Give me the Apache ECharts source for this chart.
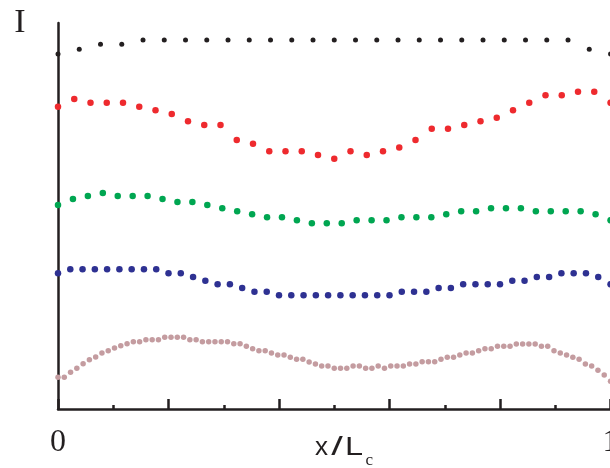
<!DOCTYPE html>
<html>
<head>
<meta charset="utf-8">
<script src="https://cdn.jsdelivr.net/npm/echarts@6/dist/echarts.min.js"></script>
<style>
html,body{margin:0;padding:0;background:#fff;}
#c{width:610px;height:468px;}
</style>
</head>
<body>
<div id="c"></div>
<script>
// Intensity profiles along x/L_c (arbitrary units, offset curves)
var blackVals = [355,359.7,364.7,364.7,369,369,369,369,369,369,369,369,369,369,369,369,369,369,369,369,369,369,369,369,369,359.7,355];
var redVals = [302.3,310,306.3,306.3,306.3,302.3,298.7,295,287.7,284,284,269,265.3,257.7,257.7,257.7,254,250.3,257.7,254,257.7,261.5,269,280.3,280.3,284,287.7,291.3,298.7,306.3,313.7,313.7,317.3,317.3,306.3];
var greenVals = [204,210,213,216,213,213,213,210,207,207,204,200.7,197.7,194.7,191.7,191.7,188.7,185.7,185.7,185.7,188.7,188.7,188.7,191.7,191.7,191.7,194.7,197.7,197.7,200.7,200.7,200.7,197.7,197.7,197.7,197.7,194.7,188.7];
var blueVals = [135.7,139.7,139.7,139.7,139.7,139.7,139.7,139.7,139.7,135.7,135.7,132,128.3,124.7,124.7,121,117.3,117.3,113.7,113.7,113.7,113.7,113.7,113.7,113.7,113.7,113.7,113.7,117.3,117.3,117.3,121,121,124.7,124.7,124.7,124.7,128.3,128.3,132,132,135.7,135.7,135.7,132,124.7];
var pinkVals = [31.7,31.7,36.7,40.7,45.3,49.3,52,56,58.3,61,63.3,65.3,67.3,67.3,69.3,69.3,69.3,71.7,71.7,71.7,71.7,69.3,69.3,67.3,67.3,67.3,67.3,67.3,65.3,
65.3,62.7,60.3,58.3,58.3,56,54,54,51.7,49.7,49.7,47,45,43,43,40.7,40.7,40.7,43,43,40.7,40.7,43,40.7,43,43,43,45,45,
47.3,47.3,47.3,49.7,51.7,51.7,54,56,56,58.3,60.3,60.3,62.7,62.7,62.7,65,65,65,65,62.7,62.7,58.3,56,54,51.7,49.7,45,43,38.7,34,27.7];
var xTickLabels = {0: '0', 1: '1'};

function toPoints(vals) {
  var n = vals.length;
  return vals.map(function (v, i) { return [i / (n - 1), v]; });
}

var chart = echarts.init(document.getElementById('c'), null, {renderer: 'canvas'});
var axisColor = '#231f20';
function sc(name, vals, color, size) {
  return {
    name: name, type: 'scatter', data: toPoints(vals), symbol: 'circle',
    symbolSize: size, itemStyle: {color: color, opacity: 1}, clip: false, silent: true
  };
}
var sans = '26px "Liberation Sans", Arial, sans-serif';
chart.setOption({
  animation: false,
  backgroundColor: '#fff',
  grid: {left: 58, top: 23, width: 552.5, height: 386, containLabel: false, outerBoundsMode: 'none'},
  xAxis: {
    type: 'value', min: 0, max: 1, interval: 0.2,
    axisLine: {show: true, lineStyle: {color: axisColor, width: 2.5}},
    axisTick: {show: true, inside: true, length: 10, lineStyle: {color: axisColor, width: 2.5}},
    minorTick: {show: true, splitNumber: 2, length: 4, lineStyle: {color: axisColor, width: 2.5}},
    splitLine: {show: false},
    axisLabel: {
      show: true, margin: 18, color: '#231f20', fontSize: 32,
      fontFamily: 'Liberation Serif, serif',
      showMinLabel: true, showMaxLabel: true, hideOverlap: false,
      formatter: function (v) { return xTickLabels[v] !== undefined ? xTickLabels[v] : ''; }
    }
  },
  yAxis: {
    type: 'value', min: 0, max: 386,
    axisLine: {show: true, lineStyle: {color: axisColor, width: 2.5}},
    axisTick: {show: false}, axisLabel: {show: false}, splitLine: {show: false}
  },
  graphic: [
    {type: 'text', x: 20, y: 23, style: {text: 'I', fill: '#231f20', font: '34px "Liberation Serif", serif', align: 'center', verticalAlign: 'middle'}},
    {type: 'text', x: 315, y: 447.5, style: {text: 'x', fill: '#231f20', font: sans, align: 'left', verticalAlign: 'middle'}},
    {type: 'text', x: 337, y: 447.5, scaleX: 1.6, style: {text: '/', fill: '#231f20', font: sans, align: 'center', verticalAlign: 'middle'}},
    {type: 'text', x: 345, y: 447.5, scaleX: 1.25, style: {text: 'L', fill: '#231f20', font: sans, align: 'left', verticalAlign: 'middle'}},
    {type: 'text', x: 365.5, y: 461, style: {text: 'c', fill: '#231f20', font: '17px "Liberation Serif", serif', align: 'left', verticalAlign: 'middle'}}
  ],
  series: [
    sc('black', blackVals, '#231f20', 5),
    sc('red', redVals, '#ee2a2e', 6.5),
    sc('green', greenVals, '#00a651', 6.5),
    sc('blue', blueVals, '#2e3192', 6.5),
    sc('pink', pinkVals, '#c49ca0', 5.5)
  ]
});
</script>
</body>
</html>
